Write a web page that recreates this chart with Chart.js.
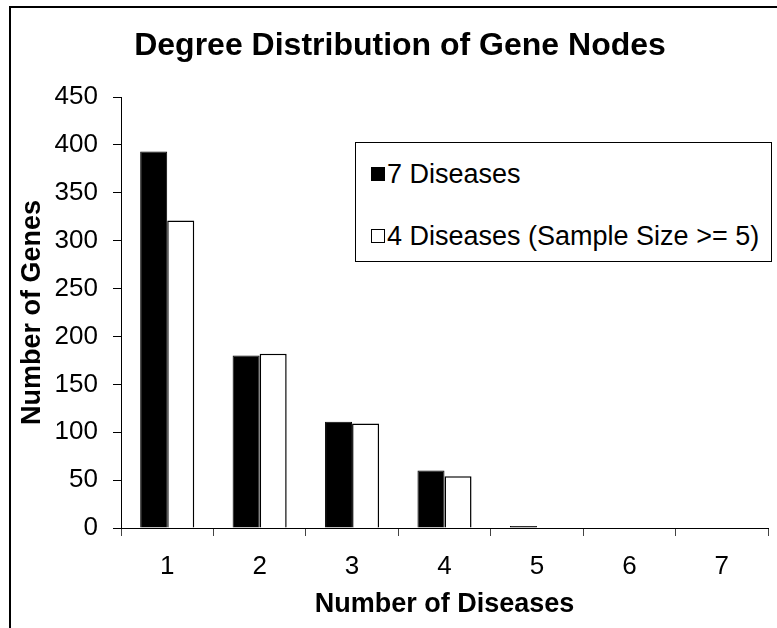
<!DOCTYPE html>
<html>
<head>
<meta charset="utf-8">
<title>Degree Distribution of Gene Nodes</title>
<script src="https://cdn.jsdelivr.net/npm/chart.js@4.4.1/dist/chart.umd.min.js"></script>
<style>
  html, body { margin: 0; padding: 0; background: #fff; overflow: hidden; }
  #wrap { position: relative; width: 777px; height: 628px; }
  #frame {
    position: absolute; left: 9px; top: 6px; right: -5px; bottom: -5px;
    border-top: 2px solid #000; border-left: 2px solid #000; pointer-events: none;
  }
  #legend {
    position: absolute; left: 355px; top: 142px; width: 415px; height: 118px;
    border: 1px solid #000; background: #fff;
    font: 27px "Liberation Sans", Arial, sans-serif; color: #000;
  }
  .item { position: absolute; left: 15px; height: 32px; display: flex; align-items: center; white-space: nowrap; }
  .swatch { width: 12px; height: 12px; border: 1px solid #000; margin-right: 2px; }
</style>
</head>
<body>
<div id="wrap">
  <canvas id="chart" width="777" height="628"></canvas>
  <div id="frame"></div>
  <div id="legend"></div>
</div>
<script>
// Datos del gráfico
const categories = ['1', '2', '3', '4', '5', '6', '7'];
const seriesNames = ['7 Diseases', '4 Diseases (Sample Size >= 5)'];
const sevenDiseases = [393, 180, 111, 60, 2, 0, 0];
const fourDiseases = [321, 182, 109, 54, 0, 0, 0];
const yMin = 0;
const yMax = 450;
const yStep = 50;

const font = '"Liberation Sans", Arial, sans-serif';

// Centrar el título sobre todo el marco (el marco sigue más allá del borde derecho)
const titleCenter = {
    id: 'titleCenter',
    afterLayout(chart) {
        if (chart.titleBlock) {
            chart.titleBlock.left = 9;
            chart.titleBlock.right = 791;
        }
    }
};

const chart = new Chart(document.getElementById('chart'), {
    type: 'bar',
    data: {
        labels: categories,
        datasets: [{
            label: seriesNames[0],
            data: sevenDiseases,
            backgroundColor: '#000',
            borderColor: '#000',
            borderWidth: 1
        }, {
            label: seriesNames[1],
            data: fourDiseases,
            backgroundColor: '#fff',
            borderColor: '#000',
            borderWidth: 1.5
        }]
    },
    options: {
        responsive: false,
        animation: false,
        layout: { padding: { left: 0, right: 9, top: 0, bottom: 0 } },
        datasets: {
            bar: { categoryPercentage: 0.585, barPercentage: 1.0 }
        },
        plugins: {
            legend: { display: false },
            tooltip: { enabled: false },
            title: {
                display: true,
                text: 'Degree Distribution of Gene Nodes',
                color: '#000',
                font: { family: font, size: 32, weight: 'bold' },
                padding: { top: 27, bottom: 31.6 }
            }
        },
        scales: {
            x: {
                afterFit(scale) { scale.height = 100; },
                grid: { drawOnChartArea: false, drawTicks: true, tickLength: 8, color: '#444' },
                border: { color: '#000', width: 1 },
                ticks: { color: '#000', padding: 15, font: { family: font, size: 26 } },
                title: {
                    display: true,
                    text: 'Number of Diseases',
                    color: '#000',
                    font: { family: font, size: 27, weight: 'bold' },
                    padding: { top: 0, bottom: 7 }
                }
            },
            y: {
                min: yMin,
                max: yMax,
                afterFit(scale) { scale.width = 121; },
                grid: { drawOnChartArea: false, drawTicks: true, tickLength: 8, color: '#000' },
                border: { color: '#000', width: 1 },
                ticks: { stepSize: yStep, color: '#000', padding: 15, font: { family: font, size: 26 } },
                title: {
                    display: true,
                    text: 'Number of Genes',
                    color: '#000',
                    font: { family: font, size: 27, weight: 'bold' },
                    padding: { top: 16, bottom: 0 }
                }
            }
        }
    },
    plugins: [titleCenter]
});

// Leyenda en HTML, construida a partir de los datasets
const legend = document.getElementById('legend');
const rowTops = [15, 77];
chart.data.datasets.forEach((ds, i) => {
    const item = document.createElement('div');
    item.className = 'item';
    item.style.top = rowTops[i] + 'px';
    const swatch = document.createElement('span');
    swatch.className = 'swatch';
    swatch.style.background = ds.backgroundColor;
    const text = document.createElement('span');
    text.textContent = ds.label;
    item.appendChild(swatch);
    item.appendChild(text);
    legend.appendChild(item);
});
</script>
</body>
</html>
